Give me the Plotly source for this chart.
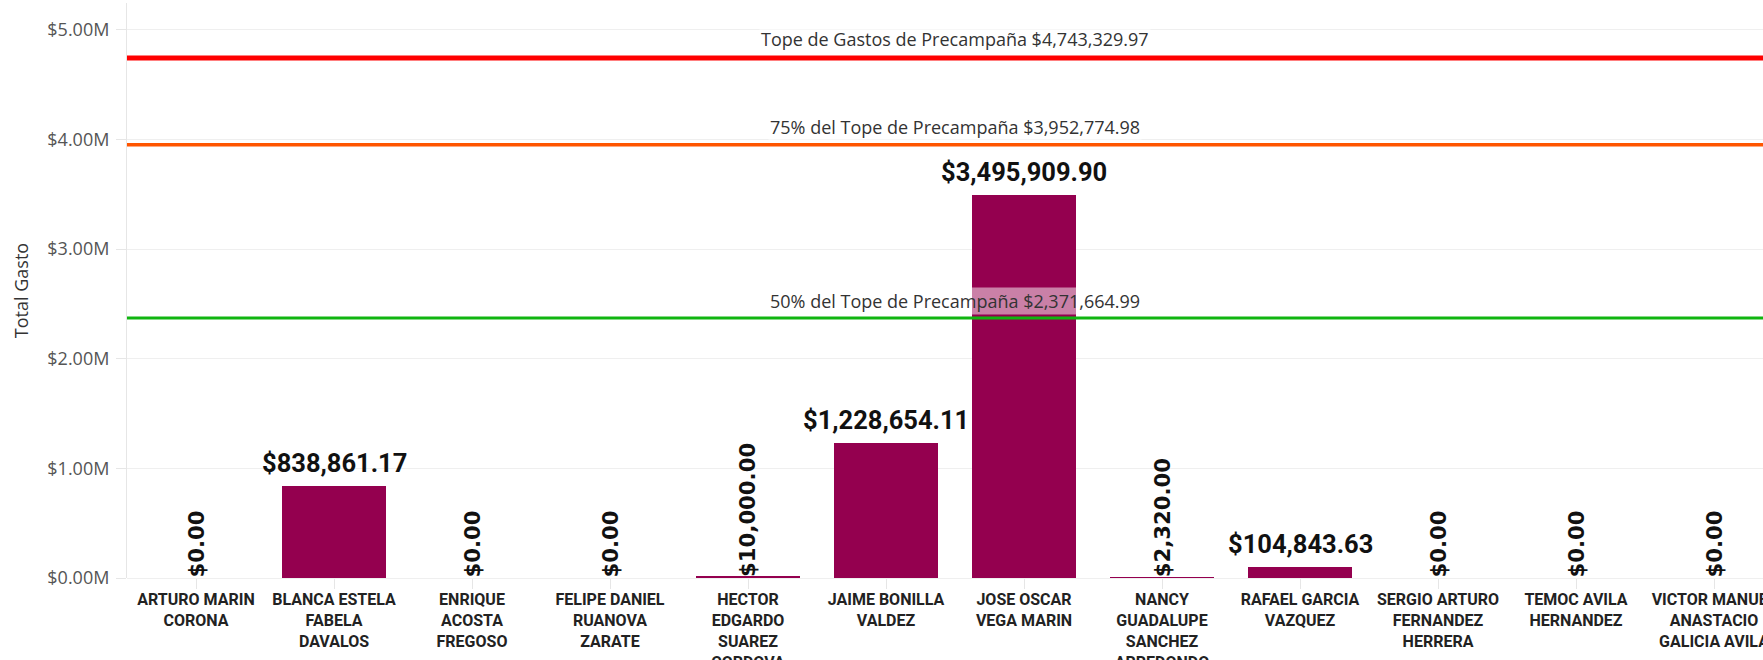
import plotly.graph_objects as go

# ---- data ----
candidates = [
    "ARTURO MARIN CORONA", "BLANCA ESTELA FABELA DAVALOS", "ENRIQUE ACOSTA FREGOSO",
    "FELIPE DANIEL RUANOVA ZARATE", "HECTOR EDGARDO SUAREZ CORDOVA", "JAIME BONILLA VALDEZ",
    "JOSE OSCAR VEGA MARIN", "NANCY GUADALUPE SANCHEZ ARREDONDO", "RAFAEL GARCIA VAZQUEZ",
    "SERGIO ARTURO FERNANDEZ HERRERA", "TEMOC AVILA HERNANDEZ", "VICTOR MANUEL ANASTACIO GALICIA AVILA",
]
tick_labels = [
    "ARTURO MARIN<br>CORONA", "BLANCA ESTELA<br>FABELA<br>DAVALOS", "ENRIQUE<br>ACOSTA<br>FREGOSO",
    "FELIPE DANIEL<br>RUANOVA<br>ZARATE", "HECTOR<br>EDGARDO<br>SUAREZ<br>CORDOVA", "JAIME BONILLA<br>VALDEZ",
    "JOSE OSCAR<br>VEGA MARIN", "NANCY<br>GUADALUPE<br>SANCHEZ<br>ARREDONDO", "RAFAEL GARCIA<br>VAZQUEZ",
    "SERGIO ARTURO<br>FERNANDEZ<br>HERRERA", "TEMOC AVILA<br>HERNANDEZ", "VICTOR MANUEL<br>ANASTACIO<br>GALICIA AVILA",
]
total_gasto = [0.00, 838861.17, 0.00, 0.00, 10000.00, 1228654.11, 3495909.90,
               2320.00, 104843.63, 0.00, 0.00, 0.00]

y_tick_vals = [0, 1e6, 2e6, 3e6, 4e6, 5e6]
y_tick_text = ["$0.00M", "$1.00M", "$2.00M", "$3.00M", "$4.00M", "$5.00M"]

ref_values = [4743329.97, 3952774.98, 2371664.99]
ref_labels = ["Tope de Gastos de Precampaña $4,743,329.97",
              "75% del Tope de Precampaña $3,952,774.98",
              "50% del Tope de Precampaña $2,371,664.99"]
ref_colors = ["#ff0000", "#ff5500", "#10b510"]
ref_widths = [5, 3.5, 3]

# ---- figure ----
x_idx = list(range(len(candidates)))
fig = go.Figure()
fig.add_trace(go.Bar(
    x=x_idx, y=total_gasto, width=0.757,
    marker=dict(color="#94004f", line=dict(width=0)),
    customdata=candidates,
    hovertemplate="%{customdata}<br>$%{y:,.2f}<extra></extra>",
))

annotations = []
for i, v in enumerate(total_gasto):
    txt = f"${v:,.2f}"
    if v < 50000:
        annotations.append(dict(
            x=i, y=v, xref="x", yref="y", text=txt, showarrow=False,
            textangle=-90, yanchor="bottom", xanchor="center", yshift=-2,
            font=dict(family="DejaVu Sans", size=21.2, color="#111111", weight="bold"),
        ))
    else:
        annotations.append(dict(
            x=i, y=v, xref="x", yref="y", text=txt, showarrow=False,
            yanchor="bottom", xanchor="center", yshift=6,
            font=dict(family="Roboto", size=25.5, color="#111111", weight="bold"),
        ))

shapes = []
center_x = (len(candidates) - 1) / 2
for val, lab, col, w in zip(ref_values, ref_labels, ref_colors, ref_widths):
    shapes.append(dict(type="line", xref="paper", yref="y", x0=0, x1=1, y0=val, y1=val,
                       line=dict(color=col, width=w), layer="above"))
    annotations.append(dict(
        x=center_x, y=val, xref="x", yref="y", text=lab, showarrow=False,
        yanchor="middle", xanchor="center", yshift=12.5 + 1.4 * w,
        bgcolor="rgba(255,255,255,0.5)", borderpad=1,
        font=dict(family="Open Sans", size=18, color="#333333"),
    ))

fig.update_layout(
    width=1763, height=660,
    margin=dict(l=127, r=0, t=3, b=82, autoexpand=False),
    paper_bgcolor="white", plot_bgcolor="white",
    showlegend=False, bargap=0,
    shapes=shapes, annotations=annotations,
    font=dict(family="Open Sans", color="#555555"),
)
fig.update_xaxes(
    automargin=False,
    range=[-0.5, -0.5 + 1636 / 138], tickmode="array", tickvals=x_idx, ticktext=tick_labels,
    tickangle=0, ticks="outside", ticklen=10, tickcolor="#e6e6e6", tickson="boundaries",
    ticklabelstandoff=-3,
    showgrid=False, showline=False, zeroline=False, ticklabeloverflow="allow",
    tickfont=dict(family="Roboto", size=16, color="#222222", weight="bold"),
)
fig.update_yaxes(
    automargin=False,
    range=[0, 5.246e6], tickmode="array", tickvals=y_tick_vals, ticktext=y_tick_text,
    ticks="outside", ticklen=10, tickcolor="#e6e6e6", ticklabelstandoff=3,
    showgrid=True, gridcolor="#efefef", gridwidth=1,
    showline=True, linecolor="#e6e6e6", linewidth=1,
    zeroline=True, zerolinecolor="#efefef", zerolinewidth=1,
    tickfont=dict(family="Open Sans", size=18, color="#555555"),
    title=dict(text="Total Gasto", standoff=14, font=dict(family="Open Sans", size=18, color="#333333")),
)

fig.write_html(
    "out.html",
    config={"displayModeBar": False},
    post_script="document.body.style.margin='0';document.body.style.overflow='hidden';",
)
